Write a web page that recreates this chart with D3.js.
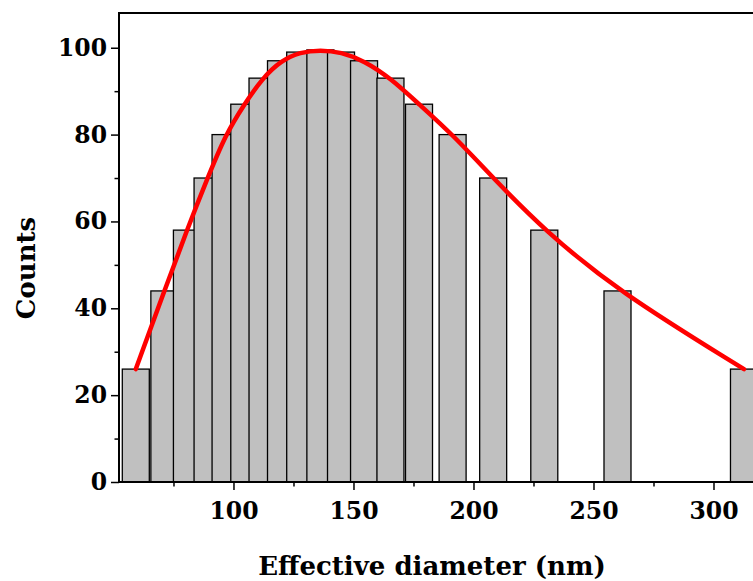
<!DOCTYPE html>
<html>
<head>
<meta charset="utf-8">
<script src="https://d3js.org/d3.v7.min.js"></script>
<style>
    body { margin: 0; background: #fff; }
    svg text { font-family: "DejaVu Serif", serif; font-weight: bold; fill: #000; }
</style>
</head>
<body>
<svg id="chart"></svg>
<script>
    // bin centres (nm) and counts
    var diameters = [59.3, 71.2, 80.6, 89.2, 96.7, 104.5, 112.1, 119.8, 127.8, 136.2,
                     144.8, 154.4, 165.4, 177.3, 191.3, 208.2, 229.5, 260.0, 312.7];
    var counts = [26, 44, 58, 70, 80, 87, 93, 97, 99, 99.5,
                  99, 97, 93, 87, 80, 70, 58, 44, 26];
    var binWidth = 11.25;

    var xTicks = [100, 150, 200, 250, 300];
    var xMinor = [75, 125, 175, 225, 275];
    var yTicks = [0, 20, 40, 60, 80, 100];
    var yMinor = [10, 30, 50, 70, 90];

    var width = 753, height = 581;

    var svg = d3.select("#chart")
        .attr("width", width)
        .attr("height", height);

    var x = d3.scaleLinear()
        .domain([52.3, 320])
        .range([119, 761.5]);

    var y = d3.scaleLinear()
        .domain([0, 108])
        .range([482, 13]);

    var data = diameters.map((d, i) => ({ d: d, c: counts[i] }));

    // bars, drawn in order so later ones sit on top of the earlier ones
    svg.append("g")
        .selectAll("rect")
        .data(data)
        .enter()
        .append("rect")
        .attr("x", d => x(d.d - binWidth / 2))
        .attr("width", d => x(d.d + binWidth / 2) - x(d.d - binWidth / 2))
        .attr("y", d => y(d.c))
        .attr("height", d => y(0) - y(d.c))
        .attr("fill", "#c0c0c0")
        .attr("stroke", "#000")
        .attr("stroke-width", 1.3);

    // fit curve over the bar tops
    var line = d3.line()
        .x(d => x(d.d))
        .y(d => y(d.c))
        .curve(d3.curveBasis);

    svg.append("path")
        .datum(data)
        .attr("d", line)
        .attr("fill", "none")
        .attr("stroke", "#ff0000")
        .attr("stroke-width", 4.5)
        .attr("stroke-linecap", "round");

    // axes
    svg.append("g")
        .attr("transform", "translate(0," + y(0) + ")")
        .call(d3.axisBottom(x).tickValues(xTicks).tickSize(8).tickPadding(12).tickSizeOuter(0));
    svg.append("g")
        .attr("transform", "translate(0," + y(0) + ")")
        .call(d3.axisBottom(x).tickValues(xMinor).tickSize(4.5).tickFormat("").tickSizeOuter(0));

    svg.append("g")
        .attr("transform", "translate(" + x.range()[0] + ",0)")
        .call(d3.axisLeft(y).tickValues(yTicks).tickSize(8).tickPadding(4).tickSizeOuter(0));
    svg.append("g")
        .attr("transform", "translate(" + x.range()[0] + ",0)")
        .call(d3.axisLeft(y).tickValues(yMinor).tickSize(4.5).tickFormat("").tickSizeOuter(0));

    svg.selectAll(".domain").remove();
    svg.selectAll(".tick line").attr("stroke", "#000").attr("stroke-width", 1.5);
    svg.selectAll(".tick text").attr("font-size", 23.5).attr("font-family", null);

    // frame: left, bottom, top
    svg.append("path")
        .attr("d", "M" + x.range()[1] + "," + y.range()[1] + "H" + x.range()[0] + "V" + y(0) + "H" + x.range()[1])
        .attr("fill", "none")
        .attr("stroke", "#000")
        .attr("stroke-width", 2);

    svg.append("text")
        .attr("x", 432)
        .attr("y", 575)
        .attr("text-anchor", "middle")
        .attr("font-size", 26)
        .text("Effective diameter (nm)");

    svg.append("text")
        .attr("transform", "translate(35,268) rotate(-90)")
        .attr("text-anchor", "middle")
        .attr("font-size", 26)
        .text("Counts");
</script>
</body>
</html>
